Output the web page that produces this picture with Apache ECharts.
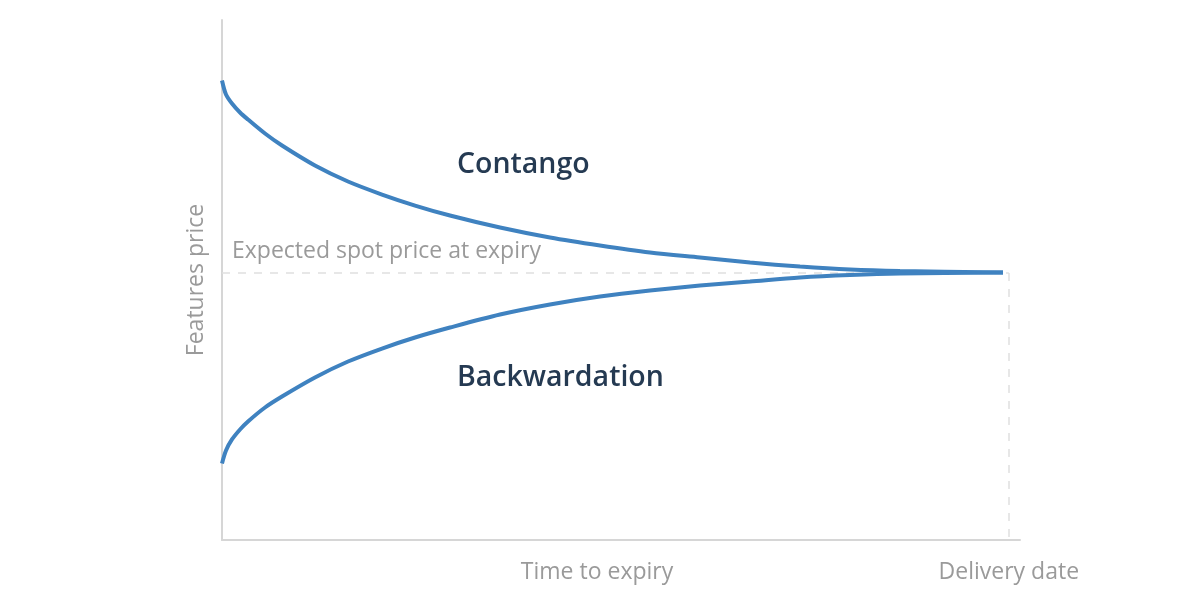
<!DOCTYPE html>
<html>
<head>
<meta charset="utf-8">
<script src="https://cdn.jsdelivr.net/npm/echarts@6/dist/echarts.min.js"></script>
<style>html,body{margin:0;padding:0;background:#fff}#c{width:1200px;height:606px}</style>
</head>
<body>
<div id="c"></div>
<script>
// Time to expiry (0 = start, ~98 = delivery)
const timeX = [0, 0.5, 1.25, 2.26, 3.26, 5.39, 7.52, 11.65, 15.79, 20.05, 24.19, 28.57, 34.84, 41.10, 47.37, 53.63, 59.90, 66.17, 72.43, 78.70, 84.96, 97.87];
const contango = [88.36, 85.67, 83.94, 82.21, 80.86, 78.17, 75.86, 72.02, 68.94, 66.44, 64.32, 62.40, 60.09, 58.17, 56.63, 55.29, 54.32, 53.36, 52.59, 52.02, 51.73, 51.44];
const backwardation = [14.71, 17.21, 19.33, 21.25, 22.79, 25.48, 27.59, 31.25, 34.32, 36.82, 38.94, 40.86, 43.36, 45.29, 46.82, 47.98, 48.94, 49.71, 50.48, 50.96, 51.25, 51.44];
const spotPrice = 51.35;
const deliveryX = 98.6;
const xLabelValues = [47, 98.6];
const xLabelTexts = {47: 'Time to expiry', 98.6: 'Delivery date'};
const yAxisName = 'Features price';
const spotLabel = 'Expected spot price at expiry';
const curveNames = ['Contango', 'Backwardation'];

const zip = (xs, ys) => xs.map((x, i) => [x, ys[i]]);
const FONT = '"Open Sans"';
const chart = echarts.init(document.getElementById('c'));
chart.setOption({
  animation: false,
  grid: {left: 222, right: 180, top: 20, bottom: 66},
  xAxis: {
    type: 'value', min: 0, max: 100,
    splitLine: {show: false},
    axisTick: {show: false},
    axisLine: {show: true, lineStyle: {color: '#d6d6d6', width: 2}},
    axisLabel: {
      show: true, customValues: xLabelValues, margin: 21,
      color: '#9a9a9a', fontSize: 23, fontFamily: FONT,
      formatter: v => xLabelTexts[v] || ''
    }
  },
  yAxis: {
    type: 'value', min: 0, max: 100,
    splitLine: {show: false},
    axisTick: {show: false},
    axisLabel: {show: false},
    axisLine: {show: true, lineStyle: {color: '#d6d6d6', width: 2}},
    name: yAxisName, nameLocation: 'middle', nameGap: 14,
    nameTextStyle: {color: '#9a9a9a', fontSize: 23, fontFamily: FONT}
  },
  series: [
    {
      name: 'ref', type: 'line', data: [], z: 1,
      markLine: {
        silent: true, symbol: 'none', z: 1,
        lineStyle: {color: '#e0e0e0', type: [8, 8], width: 1.5},
        label: {show: false},
        data: [
          [{coord: [0, spotPrice], label: {show: true, position: 'insideStartTop', formatter: spotLabel, color: '#9a9a9a', fontSize: 23, fontFamily: FONT, distance: [10, 10]}}, {coord: [deliveryX, spotPrice]}],
          [{coord: [deliveryX, spotPrice]}, {coord: [deliveryX, 0]}]
        ]
      }
    },
    {
      name: curveNames[0], type: 'line', data: zip(timeX, contango),
      smooth: 0.3, showSymbol: false,
      lineStyle: {color: '#3f82c0', width: 4, cap: 'butt'}, z: 5
    },
    {
      name: curveNames[1], type: 'line', data: zip(timeX, backwardation),
      smooth: 0.3, showSymbol: false,
      lineStyle: {color: '#3f82c0', width: 4, cap: 'butt'}, z: 5
    }
  ],
  graphic: [
    {type: 'text', x: 457, y: 165, style: {text: curveNames[0], fill: '#253a52', font: '600 28.5px ' + FONT, verticalAlign: 'middle'}},
    {type: 'text', x: 457, y: 378, style: {text: curveNames[1], fill: '#253a52', font: '600 28.5px ' + FONT, verticalAlign: 'middle'}}
  ]
});
</script>
</body>
</html>
